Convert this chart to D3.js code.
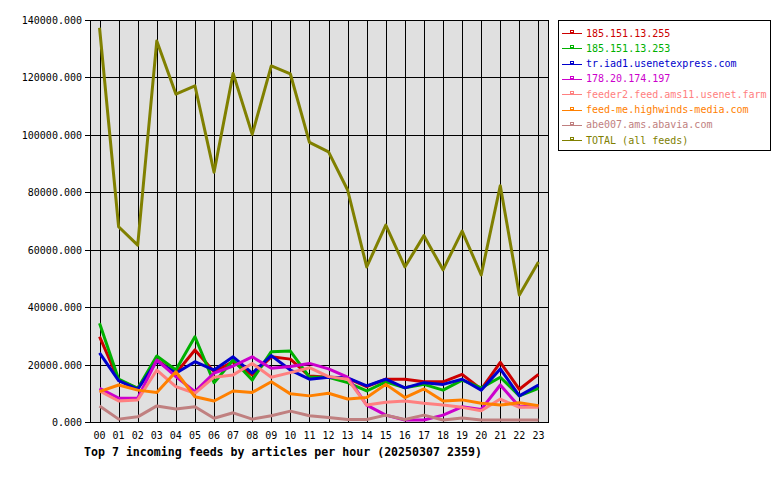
<!DOCTYPE html>
<html lang="en">
<head>
  <meta charset="UTF-8">
  <title>Top 7 incoming feeds</title>
  <style>
    body { margin: 0; background: #fff; }
    svg { display: block; }
    text { font-family: "DejaVu Sans Mono", monospace; }
  </style>
</head>
<body>
  <svg id="chart" width="780" height="480"></svg>
  <script src="https://cdn.jsdelivr.net/npm/d3@7"></script>
  <script>
    // hours on the x axis
    var hours = ["00","01","02","03","04","05","06","07","08","09","10","11",
                 "12","13","14","15","16","17","18","19","20","21","22","23"];

    var feedNames = ["185.151.13.255", "185.151.13.253", "tr.iad1.usenetexpress.com",
      "178.20.174.197", "feeder2.feed.ams11.usenet.farm", "feed-me.highwinds-media.com",
      "abe007.ams.abavia.com", "TOTAL (all feeds)"];
    var feedColors = ["#cc0000", "#00b000", "#0000cc", "#cc00cc", "#ff8080", "#ff8000", "#c08080", "#808000"];

    var feed255 = [29700,14600,11700,21600,17000,25100,17500,21000,16400,22700,21900,16000,
                   15600,15200,12300,14900,14900,14000,14000,16600,11400,20800,11400,16600];
    var feed253 = [34400,14900,11700,23000,18100,29700,13700,21600,14600,24500,24700,15600,
                   15600,13700,10800,14000,11900,13100,11100,14600,11900,15600,9100,11700];
    var feedIad1 = [24100,14400,11400,21200,17000,21000,18100,22700,17000,23100,18100,14900,
                    15600,15400,12600,14900,11900,13700,13100,14900,11100,18500,9100,12900];
    var feed197 = [11700,8300,8300,21600,15800,10600,17000,19500,22700,18700,19300,20400,
                   18500,15600,5900,2400,700,700,2400,5300,4400,12900,5300,5600];
    var feedAms11 = [10800,7300,7700,18100,12300,10000,15600,16400,20400,15600,17200,18900,
                     15800,14900,5900,6900,7300,6500,5900,5100,3900,8000,5100,5100];
    var feedHighwinds = [10600,12900,11100,10300,17500,8800,7300,10800,10300,14000,9800,9100,
                         10000,8000,8500,13100,8500,11500,7300,7700,6500,5900,6700,5700];
    var feedAbavia = [5600,1000,1800,5600,4500,5300,1300,3200,1000,2200,3800,2200,
                      1600,900,900,2400,900,2400,700,1400,700,700,700,700];
    var feedTotal = [137300,68000,61600,132700,114200,117100,87000,121400,100200,124000,121200,97400,
                     94100,80800,54000,68600,54000,64900,53000,66500,51200,82300,44200,55700];

    var yTicks = [0, 20000, 40000, 60000, 80000, 100000, 120000, 140000];

    var series = [feed255, feed253, feedIad1, feed197, feedAms11, feedHighwinds, feedAbavia, feedTotal];

    var svg = d3.select("#chart");
    var plotLeft = 90, plotRight = 548, plotTop = 20, plotBottom = 422;

    var x = d3.scalePoint().domain(hours).range([plotLeft, plotRight]).padding(0.5);
    var y = d3.scaleLinear().domain([0, 140000]).range([plotBottom, plotTop]);

    // plot background
    svg.append("rect")
      .attr("x", plotLeft).attr("y", plotTop)
      .attr("width", plotRight - plotLeft).attr("height", plotBottom - plotTop)
      .attr("fill", "#e0e0e0");

    var grid = svg.append("g").attr("shape-rendering", "crispEdges");
    grid.selectAll(".vg").data(hours).enter().append("line")
      .attr("x1", function(d) { return Math.round(x(d)) + 0.5; })
      .attr("x2", function(d) { return Math.round(x(d)) + 0.5; })
      .attr("y1", plotTop).attr("y2", plotBottom)
      .attr("stroke", "#000");
    grid.selectAll(".hg").data(yTicks).enter().append("line")
      .attr("x1", plotLeft - 5).attr("x2", plotRight)
      .attr("y1", function(d) { return Math.round(y(d)) + 0.5; })
      .attr("y2", function(d) { return Math.round(y(d)) + 0.5; })
      .attr("stroke", "#000");
    grid.append("rect")
      .attr("x", plotLeft + 0.5).attr("y", plotTop + 0.5)
      .attr("width", plotRight - plotLeft).attr("height", plotBottom - plotTop)
      .attr("fill", "none").attr("stroke", "#000");

    // y labels
    svg.selectAll(".yl").data(yTicks).enter().append("text")
      .attr("x", 82).attr("y", function(d) { return y(d) + 4; })
      .attr("text-anchor", "end").attr("font-size", 10)
      .text(function(d) { return d3.format(".3f")(d); });

    // x labels
    svg.selectAll(".xl").data(hours).enter().append("text")
      .attr("x", function(d) { return x(d); }).attr("y", 439)
      .attr("text-anchor", "middle").attr("font-size", 10)
      .text(function(d) { return d; });

    var line = d3.line()
      .x(function(d, i) { return x(hours[i]); })
      .y(function(d) { return y(d); });

    series.forEach(function(s, k) {
      svg.append("path")
        .attr("d", line(s))
        .attr("fill", "none")
        .attr("stroke", feedColors[k])
        .attr("stroke-width", 3)
        .attr("stroke-linejoin", "round");
    });

    // title
    svg.append("text")
      .attr("x", 84).attr("y", 456)
      .attr("font-size", 11.6).attr("font-weight", "bold")
      .text("Top 7 incoming feeds by articles per hour (20250307 2359)");

    // legend
    var lg = svg.append("g").attr("shape-rendering", "crispEdges");
    lg.append("rect")
      .attr("x", 558.5).attr("y", 20.5).attr("width", 212).attr("height", 130)
      .attr("fill", "#fff").attr("stroke", "#000");
    feedNames.forEach(function(name, k) {
      var ly = 33 + k * 15.3;
      lg.append("line")
        .attr("x1", 562).attr("x2", 582)
        .attr("y1", Math.round(ly) + 0.5).attr("y2", Math.round(ly) + 0.5)
        .attr("stroke", feedColors[k]);
      lg.append("rect")
        .attr("x", 570.5).attr("y", Math.round(ly) - 2.5).attr("width", 3).attr("height", 2)
        .attr("fill", "#fff").attr("stroke", feedColors[k]);
      svg.append("text")
        .attr("x", 586).attr("y", ly + 3.5)
        .attr("font-size", 10).attr("fill", feedColors[k])
        .text(name);
    });
  </script>
</body>
</html>
